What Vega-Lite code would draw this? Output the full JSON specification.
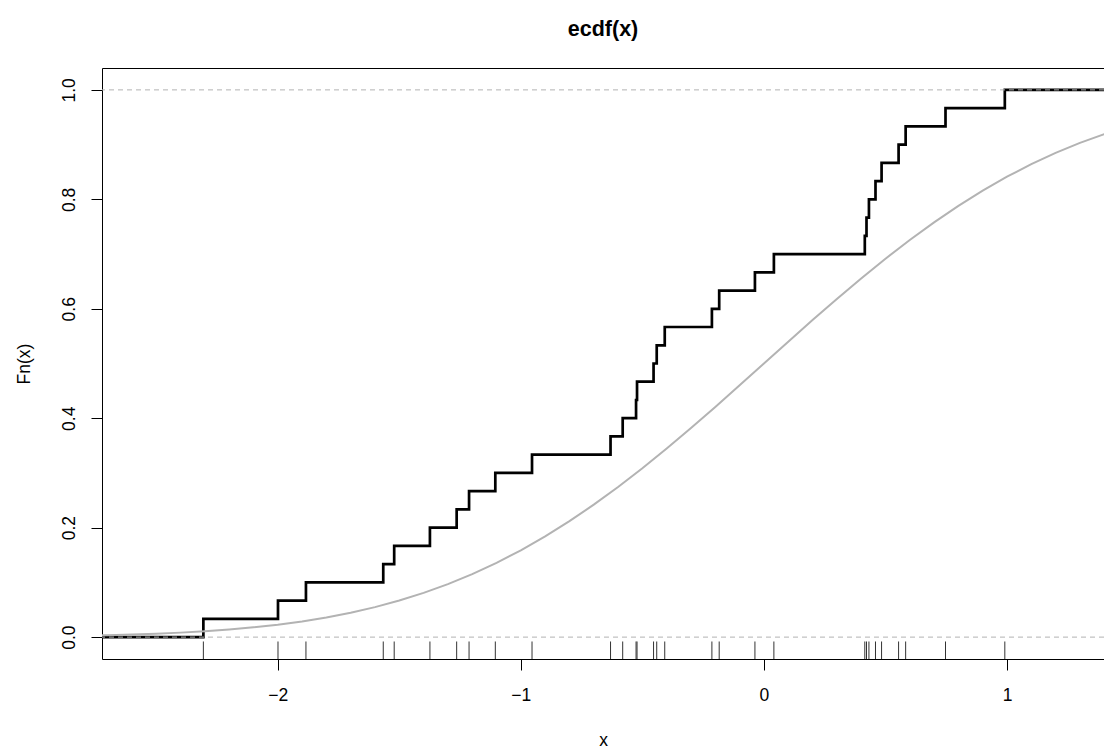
{
  "$schema": "https://vega.github.io/schema/vega-lite/v6.json",
  "width": 1002,
  "height": 591,
  "autosize": {"type": "none"},
  "padding": {"left": 102, "top": 68, "right": 0, "bottom": 90},
  "background": "white",
  "title": {"text": "ecdf(x)", "font": "Liberation Sans", "fontSize": 21.5, "fontWeight": "bold", "anchor": "middle", "frame": "group", "baseline": "alphabetic", "offset": 36, "dy": 25, "color": "black"},
  "config": {
    "view": {"stroke": "black", "strokeWidth": 1},
    "axis": {"grid": false, "domain": false, "tickColor": "black", "labelColor": "black", "titleColor": "black", "labelFont": "Liberation Sans", "titleFont": "Liberation Sans", "labelFontSize": 17.5, "titleFontSize": 17.5, "titleFontWeight": "normal", "tickSize": 11, "tickWidth": 1, "labelFlush": false, "labelOverlap": false}
  },
  "resolve": {"axis": {"x": "independent", "y": "independent"}},
  "datasets": {
    "ecdf": [
      {"i": 0, "x": -2.8, "Fn": 0.0},
      {"i": 1, "x": -2.306, "Fn": 0.0333},
      {"i": 2, "x": -1.999, "Fn": 0.0667},
      {"i": 3, "x": -1.884, "Fn": 0.1},
      {"i": 4, "x": -1.566, "Fn": 0.1333},
      {"i": 5, "x": -1.521, "Fn": 0.1667},
      {"i": 6, "x": -1.374, "Fn": 0.2},
      {"i": 7, "x": -1.264, "Fn": 0.2333},
      {"i": 8, "x": -1.213, "Fn": 0.2667},
      {"i": 9, "x": -1.105, "Fn": 0.3},
      {"i": 10, "x": -0.954, "Fn": 0.3333},
      {"i": 11, "x": -0.631, "Fn": 0.3667},
      {"i": 12, "x": -0.581, "Fn": 0.4},
      {"i": 13, "x": -0.526, "Fn": 0.4333},
      {"i": 14, "x": -0.522, "Fn": 0.4667},
      {"i": 15, "x": -0.454, "Fn": 0.5},
      {"i": 16, "x": -0.441, "Fn": 0.5333},
      {"i": 17, "x": -0.408, "Fn": 0.5667},
      {"i": 18, "x": -0.214, "Fn": 0.6},
      {"i": 19, "x": -0.184, "Fn": 0.6333},
      {"i": 20, "x": -0.037, "Fn": 0.6667},
      {"i": 21, "x": 0.041, "Fn": 0.7},
      {"i": 22, "x": 0.415, "Fn": 0.7333},
      {"i": 23, "x": 0.422, "Fn": 0.7667},
      {"i": 24, "x": 0.432, "Fn": 0.8},
      {"i": 25, "x": 0.459, "Fn": 0.8333},
      {"i": 26, "x": 0.484, "Fn": 0.8667},
      {"i": 27, "x": 0.554, "Fn": 0.9},
      {"i": 28, "x": 0.583, "Fn": 0.9333},
      {"i": 29, "x": 0.747, "Fn": 0.9667},
      {"i": 30, "x": 0.991, "Fn": 1.0},
      {"i": 31, "x": 1.5, "Fn": 1.0}
    ],
    "rug": [
      {"x": -2.306}, {"x": -1.999}, {"x": -1.884}, {"x": -1.566}, {"x": -1.521},
      {"x": -1.374}, {"x": -1.264}, {"x": -1.213}, {"x": -1.105}, {"x": -0.954},
      {"x": -0.631}, {"x": -0.581}, {"x": -0.526}, {"x": -0.522}, {"x": -0.454},
      {"x": -0.441}, {"x": -0.408}, {"x": -0.214}, {"x": -0.184}, {"x": -0.037},
      {"x": 0.041}, {"x": 0.415}, {"x": 0.422}, {"x": 0.432}, {"x": 0.459},
      {"x": 0.484}, {"x": 0.554}, {"x": 0.583}, {"x": 0.747}, {"x": 0.991}
    ],
    "curve": [
      {"x": -2.8, "p": 0.0026}, {"x": -2.7, "p": 0.0035}, {"x": -2.6, "p": 0.0047},
      {"x": -2.5, "p": 0.0062}, {"x": -2.4, "p": 0.0082}, {"x": -2.3, "p": 0.0107},
      {"x": -2.2, "p": 0.0139}, {"x": -2.1, "p": 0.0179}, {"x": -2.0, "p": 0.0228},
      {"x": -1.9, "p": 0.0287}, {"x": -1.8, "p": 0.0359}, {"x": -1.7, "p": 0.0446},
      {"x": -1.6, "p": 0.0548}, {"x": -1.5, "p": 0.0668}, {"x": -1.4, "p": 0.0808},
      {"x": -1.3, "p": 0.0968}, {"x": -1.2, "p": 0.1151}, {"x": -1.1, "p": 0.1357},
      {"x": -1.0, "p": 0.1587}, {"x": -0.9, "p": 0.1841}, {"x": -0.8, "p": 0.2119},
      {"x": -0.7, "p": 0.242}, {"x": -0.6, "p": 0.2743}, {"x": -0.5, "p": 0.3085},
      {"x": -0.4, "p": 0.3446}, {"x": -0.3, "p": 0.3821}, {"x": -0.2, "p": 0.4207},
      {"x": -0.1, "p": 0.4602}, {"x": 0.0, "p": 0.5}, {"x": 0.1, "p": 0.5398},
      {"x": 0.2, "p": 0.5793}, {"x": 0.3, "p": 0.6179}, {"x": 0.4, "p": 0.6554},
      {"x": 0.5, "p": 0.6915}, {"x": 0.6, "p": 0.7257}, {"x": 0.7, "p": 0.758},
      {"x": 0.8, "p": 0.7881}, {"x": 0.9, "p": 0.8159}, {"x": 1.0, "p": 0.8413},
      {"x": 1.1, "p": 0.8643}, {"x": 1.2, "p": 0.8849}, {"x": 1.3, "p": 0.9032},
      {"x": 1.4, "p": 0.9192}, {"x": 1.5, "p": 0.9332}
    ],
    "hlines": [{"y": 0}, {"y": 1}]
  },
  "layer": [
    {
      "data": {"name": "ecdf"},
      "mark": {"type": "line", "interpolate": "step-after", "color": "black", "strokeWidth": 2.7, "clip": true},
      "encoding": {
        "x": {"field": "x", "type": "quantitative", "scale": {"domain": [-2.723, 1.399], "nice": false, "zero": false},
          "axis": {"values": [-2, -1, 0, 1], "title": "x", "labelPadding": 16, "titleX": 501, "titleY": 86, "titleBaseline": "alphabetic", "titleAlign": "center", "labelExpr": "replace(datum.label, '-', '\u2212')"}},
        "y": {"field": "Fn", "type": "quantitative", "scale": {"domain": [-0.04, 1.04], "nice": false, "zero": false},
          "axis": {"values": [0, 0.2, 0.4, 0.6, 0.8, 1.0], "format": ".1f", "title": "Fn(x)", "labelAngle": -90, "labelAlign": "center", "labelBaseline": "alphabetic", "labelPadding": 17, "titleAngle": -90, "titleX": -73, "titleY": 295.5, "titleAlign": "center", "titleBaseline": "alphabetic"}},
        "order": {"field": "i", "type": "quantitative"}
      }
    },
    {
      "data": {"name": "hlines"},
      "mark": {"type": "rule", "color": "#b3b3b3", "strokeWidth": 1, "strokeDash": [5, 4]},
      "encoding": {
        "y": {"field": "y", "type": "quantitative", "scale": {"domain": [-0.04, 1.04], "nice": false, "zero": false}, "axis": null}
      }
    },
    {
      "data": {"name": "curve"},
      "mark": {"type": "line", "color": "#b3b3b3", "strokeWidth": 2, "clip": true},
      "encoding": {
        "x": {"field": "x", "type": "quantitative", "scale": {"domain": [-2.723, 1.399], "nice": false, "zero": false}, "axis": null},
        "y": {"field": "p", "type": "quantitative", "scale": {"domain": [-0.04, 1.04], "nice": false, "zero": false}, "axis": null}
      }
    },
    {
      "data": {"name": "rug"},
      "mark": {"type": "rule", "color": "#333333", "strokeWidth": 1},
      "encoding": {
        "x": {"field": "x", "type": "quantitative", "scale": {"domain": [-2.723, 1.399], "nice": false, "zero": false}, "axis": null},
        "y": {"datum": -0.04, "axis": null},
        "y2": {"datum": -0.008}
      }
    }
  ]
}
